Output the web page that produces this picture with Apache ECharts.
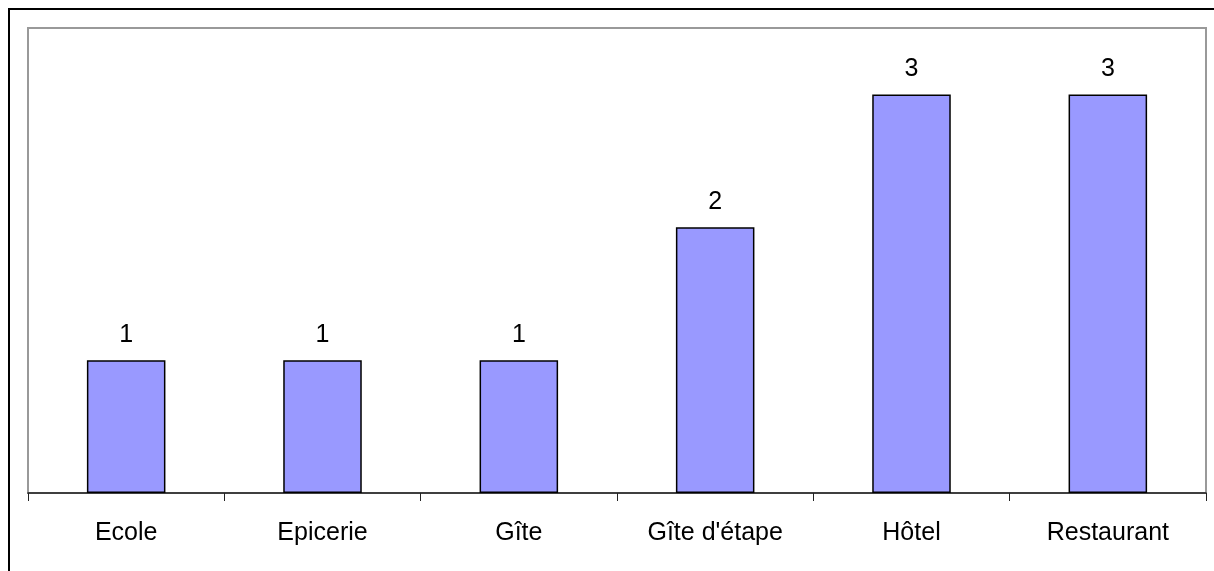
<!DOCTYPE html>
<html>
<head>
<meta charset="utf-8">
<script src="https://cdn.jsdelivr.net/npm/echarts@6/dist/echarts.min.js"></script>
<style>
html,body{margin:0;padding:0;background:#fff;}
#chart{width:1214px;height:571px;}
</style>
</head>
<body>
<div id="chart"></div>
<script>
const categories = ["Ecole", "Epicerie", "Gîte", "Gîte d'étape", "Hôtel", "Restaurant"];
const values = [1, 1, 1, 2, 3, 3];

const chart = echarts.init(document.getElementById('chart'), null, {renderer: 'canvas'});
chart.setOption({
  animation: false,
  backgroundColor: '#ffffff',
  textStyle: {fontFamily: 'Liberation Sans, Arial, sans-serif'},
  graphic: [{
    type: 'rect',
    shape: {x: 9, y: 9, width: 1240, height: 600},
    style: {fill: 'none', stroke: '#000', lineWidth: 2},
    silent: true,
    z: 100
  }],
  grid: {
    left: 28, right: 8, top: 28, bottom: 78,
    show: true, borderColor: '#999999', borderWidth: 2, backgroundColor: '#fff'
  },
  xAxis: {
    type: 'category',
    data: categories,
    boundaryGap: true,
    axisLine: {show: true, lineStyle: {color: '#222', width: 1.5}},
    axisTick: {show: true, length: 8, lineStyle: {color: '#222', width: 1}},
    axisLabel: {
      color: '#000', fontSize: 25, margin: 28,
      fontFamily: 'Liberation Sans, Arial, sans-serif', interval: 0
    }
  },
  yAxis: {
    type: 'value', min: 0, max: 3.5,
    show: false,
    splitLine: {show: false}
  },
  series: [{
    type: 'bar',
    data: values,
    barWidth: '40%',
    itemStyle: {color: '#9999FF', borderColor: '#000', borderWidth: 1.5},
    label: {
      show: true, position: 'top', distance: 13,
      color: '#000', fontSize: 25,
      fontFamily: 'Liberation Sans, Arial, sans-serif'
    }
  }]
});
</script>
</body>
</html>
